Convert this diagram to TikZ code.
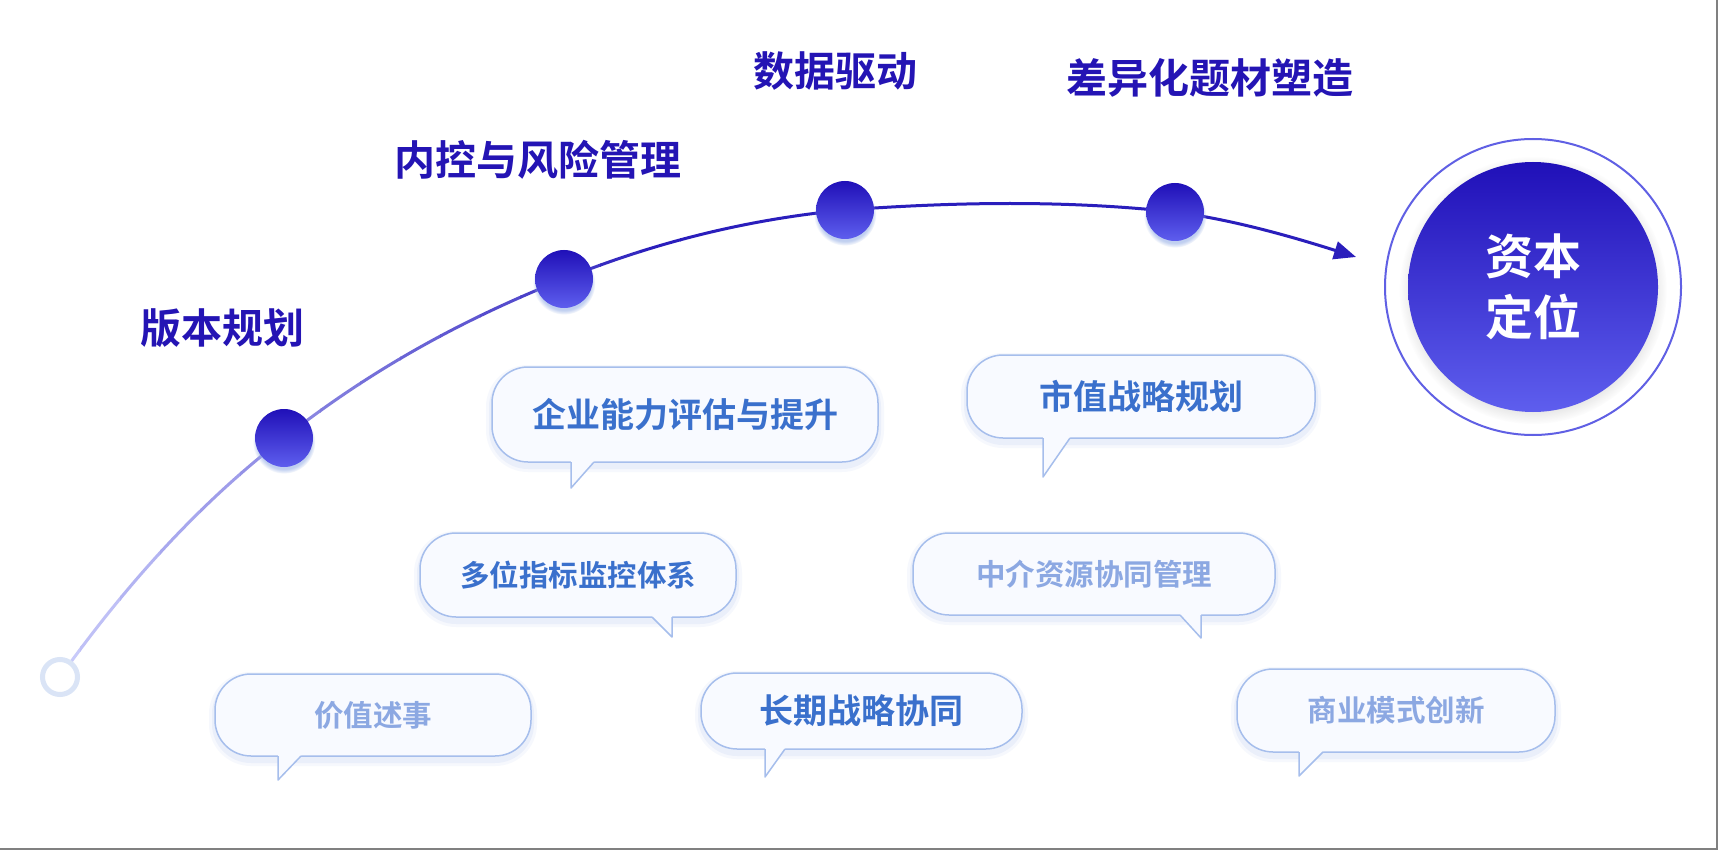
\documentclass[tikz,border=0pt]{standalone}
\usepackage{fontspec}
\usepackage{tikz}
\usetikzlibrary{arrows.meta,shadows}
\newfontfamily\cjk[BoldFont={Noto Sans CJK SC Bold}]{Noto Sans CJK SC}

\definecolor{labelblue}{RGB}{36,20,180}
\definecolor{arclight}{RGB}{200,202,250}
\definecolor{arcdark}{RGB}{42,30,188}
\definecolor{dottop}{RGB}{32,16,184}
\definecolor{dotmid}{RGB}{52,40,204}
\definecolor{dotbottom}{RGB}{94,94,238}
\definecolor{ringblue}{RGB}{96,96,228}
\definecolor{bubblefill}{RGB}{248,250,255}
\definecolor{bubbleline}{RGB}{166,190,236}
\definecolor{bubbleshadow}{RGB}{150,175,230}
\definecolor{textdark}{RGB}{58,112,204}
\definecolor{textlight}{RGB}{140,168,226}
\definecolor{startring}{RGB}{218,228,246}
\definecolor{framegray}{RGB}{128,128,128}

\newcommand\arcroute{(p0) .. controls +(75,-105) and +(-75,58) .. (d1)
	.. controls +(93,-73) and +(-93,37) .. (d2)
	.. controls +(94,-38) and +(-94,9) .. (d3)
	.. controls +(110,-8) and +(-110,-12) .. (d4)
	.. controls +(60,8) and +(-60,-19) .. (tipend)}

% node, offset, width, depth
\newcommand\tailleft[4]{%
	\fill[bubblefill] ([xshift=#2pt,yshift=2pt]#1.south west) -- ([xshift=#2pt,yshift=-#4pt]#1.south west) -- ([xshift=#2pt+#3pt]#1.south west) -- ([xshift=#2pt+#3pt,yshift=2pt]#1.south west) -- cycle;
	\draw[tail line] ([xshift=#2pt]#1.south west) -- ([xshift=#2pt,yshift=-#4pt]#1.south west) -- ([xshift=#2pt+#3pt]#1.south west);
}
\newcommand\tailright[4]{%
	\fill[bubblefill] ([xshift=-#2pt-#3pt,yshift=2pt]#1.south east) -- ([xshift=-#2pt-#3pt]#1.south east) -- ([xshift=-#2pt,yshift=-#4pt]#1.south east) -- ([xshift=-#2pt,yshift=2pt]#1.south east) -- cycle;
	\draw[tail line] ([xshift=-#2pt-#3pt]#1.south east) -- ([xshift=-#2pt,yshift=-#4pt]#1.south east) -- ([xshift=-#2pt]#1.south east);
}

\begin{document}
\begin{tikzpicture}[x=1pt, y=-1pt,
	stage label/.style={text=labelblue, font=\cjk\bfseries\fontsize{41pt}{41pt}\selectfont, inner sep=0pt},
	arc line/.style={line width=3pt, line cap=round},
	stagedot/.style={circle, minimum size=58pt, inner sep=0pt, top color=dottop, bottom color=dotbottom,
		circular drop shadow={shadow xshift=0pt, shadow yshift=-4pt, shadow scale=1.08, fill=bubbleshadow, opacity=0.6}},
	start ring/.style={circle, minimum size=35pt, inner sep=0pt, line width=5pt, draw=startring, fill=white},
	goal ring/.style={circle, minimum size=296pt, inner sep=0pt, line width=2pt, draw=ringblue, fill=white},
	goal core/.style={circle, minimum size=250pt, inner sep=0pt, top color=dottop, middle color=dotmid, bottom color=dotbottom,
		text=white, align=center, font=\cjk\bfseries\fontsize{48pt}{61pt}\selectfont,
		circular drop shadow={shadow xshift=0pt, shadow yshift=-3pt, shadow scale=1.07, fill=black!30, opacity=0.45}},
	soft shadow/.style={preaction={draw=bubbleshadow, line width=12pt, opacity=0.08, transform canvas={yshift=-4pt}},
		preaction={draw=bubbleshadow, line width=6pt, opacity=0.12, transform canvas={yshift=-4pt}}},
	bubble/.style={rectangle, rounded corners=36pt, draw=bubbleline, line width=1.5pt, fill=bubblefill,
		inner sep=0pt, outer sep=0pt, soft shadow},
	tail line/.style={draw=bubbleline, line width=1.5pt, line join=round},
	big text/.style={text=textdark, font=\cjk\bfseries\fontsize{34pt}{34pt}\selectfont},
	small text/.style={text=textdark, font=\cjk\bfseries\fontsize{29.5pt}{29.5pt}\selectfont},
	pale text/.style={small text, text=textlight}]

	\useasboundingbox (0,0) rectangle (1718,850);
	\fill[white] (0,0) rectangle (1718,850);
	\draw[framegray, line width=2pt] (0,849) -- (1717,849) -- (1717,0);

	\coordinate (p0) at (60,677);
	\coordinate (d1) at (284,438);
	\coordinate (d2) at (564,279);
	\coordinate (d3) at (845,210);
	\coordinate (d4) at (1175,212);
	\coordinate (tipend) at (1356,257);

	% curve, light to dark
	\foreach \i in {0,...,15} {
		\pgfmathtruncatemacro\mixpct{\i*100/15}
		\begin{scope}
			\clip (40+\i*40,0) rectangle (81+\i*40,850);
			\draw[arc line, draw=arcdark!\mixpct!arclight] \arcroute;
		\end{scope}
	}
	\begin{scope}
		\clip (680,0) rectangle (1718,850);
		\draw[arc line, draw=arcdark, -{Triangle[length=22pt,width=18pt]}] \arcroute;
	\end{scope}

	\node[start ring] (start) at (p0) {};
	\node[stagedot] (s1) at (d1) {};
	\node[stagedot] (s2) at (d2) {};
	\node[stagedot] (s3) at (d3) {};
	\node[stagedot] (s4) at (d4) {};

	\node[stage label] (l1) at (222,328) {版本规划};
	\node[stage label] (l2) at (538,160) {内控与风险管理};
	\node[stage label] (l3) at (835,71) {数据驱动};
	\node[stage label] (l4) at (1210,78) {差异化题材塑造};

	\node[goal ring] (ring) at (1533,287) {};
	\node[goal core] (goal) at (1533,287) {资本\\定位};

	\node[bubble, big text, minimum width=386pt, minimum height=95pt] (b1) at (685,414.5) {企业能力评估与提升};
	\tailleft{b1}{79}{23}{26}
	\node[bubble, small text, minimum width=316pt, minimum height=84pt] (b2) at (578,575) {多位指标监控体系};
	\tailright{b2}{64}{20}{20}
	\node[bubble, big text, minimum width=348pt, minimum height=83pt] (b3) at (1141,396.5) {市值战略规划};
	\tailleft{b3}{76}{27}{39}
	\node[bubble, pale text, minimum width=362pt, minimum height=82pt] (b4) at (1094,574) {中介资源协同管理};
	\tailright{b4}{74}{21}{23}
	\node[bubble, pale text, minimum width=316pt, minimum height=82pt] (b5) at (373,715) {价值述事};
	\tailleft{b5}{63}{23}{24}
	\node[bubble, big text, minimum width=321pt, minimum height=76pt] (b6) at (861.5,711) {长期战略协同};
	\tailleft{b6}{64}{20}{28}
	\node[bubble, pale text, minimum width=318pt, minimum height=83pt] (b7) at (1396,710.5) {商业模式创新};
	\tailleft{b7}{62}{24}{24}
\end{tikzpicture}
\end{document}
